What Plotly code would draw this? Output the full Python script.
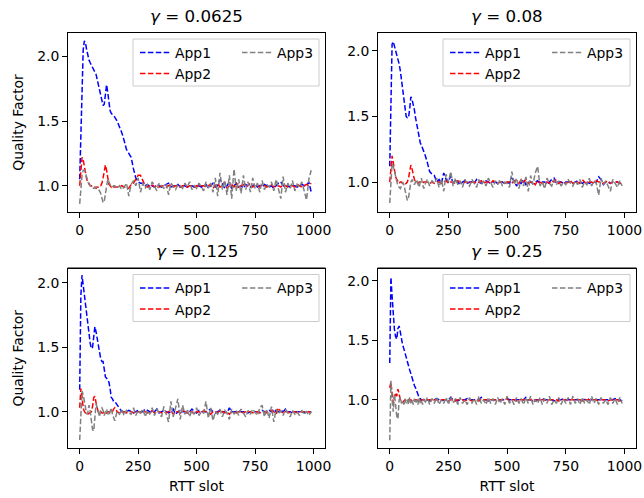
import plotly.graph_objects as go

# RTT slot sampling (finer at the start where the transients are)
rtt_slots = list(range(0, 151, 5)) + list(range(160, 1000, 10))

gammas = ["0.0625", "0.08", "0.125", "0.25"]
app_names = ["App1", "App2", "App3"]

# ---------------- gamma = 0.0625 ----------------
g1_app1 = [1.05, 1.40, 1.80, 2.05, 2.12, 2.10, 2.05, 2.00, 1.97, 1.95,
           1.93, 1.92, 1.90, 1.88, 1.86, 1.82, 1.78, 1.74, 1.70, 1.66,
           1.62, 1.63, 1.74, 1.78, 1.72, 1.63, 1.58, 1.56, 1.55, 1.54,
           1.53,
           1.50, 1.46, 1.41, 1.35, 1.28, 1.25, 1.22, 1.13, 1.06, 1.03,
           1.02, 1.02, 1.00, 1.01, 0.99, 1.00, 0.99, 1.01, 1.00, 0.99,
           1.00, 1.01, 1.02, 0.99, 1.00, 1.00, 1.01, 0.99, 1.00, 1.00,
           0.99, 1.00, 1.00, 0.99, 1.00, 1.00, 0.99, 1.00, 1.01, 0.98,
           1.00, 1.02, 0.99, 1.00, 1.05, 1.02, 0.98, 1.00, 1.03, 0.98,
           1.00, 1.02, 0.99, 1.00, 0.98, 1.01, 1.00, 0.99, 1.00, 1.01,
           0.99, 1.00, 0.99, 1.01, 1.00, 0.99, 1.00, 0.98, 1.00, 1.02,
           1.03, 1.00, 0.99, 1.00, 0.99, 1.00, 1.00, 0.99, 1.00, 1.01,
           1.00, 1.00, 1.03, 0.95]
g1_app2 = [1.00, 1.15, 1.22, 1.20, 1.14, 1.08, 1.05, 1.03, 1.01, 1.00,
           1.00, 0.99, 0.99, 0.99, 0.98, 0.99, 0.99, 1.00, 1.00, 1.02,
           1.06, 1.12, 1.16, 1.12, 1.05, 1.01, 1.00, 0.99, 1.00, 0.99,
           0.99,
           0.99, 0.99, 1.00, 0.99, 0.98, 0.98, 1.01, 1.02, 1.05, 1.08,
           1.08, 1.04, 1.00, 0.99, 1.00, 1.01, 0.99, 1.00, 0.99, 1.00,
           1.00, 0.99, 1.00, 1.01, 0.99, 1.00, 1.00, 0.99, 1.00, 1.00,
           0.99, 1.00, 1.00, 0.99, 1.00, 0.99, 1.00, 1.00, 0.99, 1.00,
           1.01, 0.98, 1.00, 1.02, 0.99, 1.00, 1.03, 0.98, 1.00, 1.01,
           0.99, 1.02, 0.98, 1.00, 1.01, 0.99, 1.00, 1.02, 0.99, 1.00,
           1.00, 0.99, 1.01, 1.00, 0.99, 1.00, 1.01, 0.99, 1.00, 1.00,
           0.99, 1.01, 1.00, 0.99, 1.00, 1.00, 0.99, 1.01, 1.00, 0.99,
           1.00, 1.01, 1.00, 1.02]
g1_app3 = [0.86, 0.98, 1.08, 1.12, 1.12, 1.10, 1.06, 1.03, 1.01, 1.00,
           1.00, 0.99, 0.98, 0.98, 0.99, 0.98, 0.97, 0.96, 0.94, 0.90,
           0.87, 0.88, 0.95, 1.02, 1.05, 1.03, 1.00, 0.99, 0.99, 1.00,
           1.00,
           0.98, 1.00, 0.97, 0.99, 1.02, 0.92, 1.01, 1.04, 1.00, 1.06,
           0.95, 1.02, 0.98, 1.01, 0.97, 1.03, 0.99, 0.96, 1.02, 1.00,
           0.98, 1.01, 0.93, 1.02, 0.99, 0.97, 1.01, 1.00, 0.98, 1.02,
           0.99, 1.03, 0.97, 1.00, 0.98, 1.02, 0.99, 0.96, 1.03, 0.98,
           1.02, 0.95, 1.06, 0.92, 1.10, 0.97, 1.04, 0.93, 1.08, 0.90,
           1.13, 0.96, 1.05, 0.94, 1.08, 0.97, 1.03, 0.95, 1.06, 0.98,
           1.02, 0.95, 1.04, 0.97, 1.01, 0.99, 1.03, 0.96, 1.05, 0.98,
           0.90, 1.07, 0.95, 1.02, 0.98, 1.04, 0.96, 1.01, 0.99, 1.03,
           0.97, 0.89, 1.05, 1.12]

# ---------------- gamma = 0.08 ----------------
g2_app1 = [1.12, 1.70, 2.05, 2.07, 2.04, 2.00, 1.97, 1.94, 1.90, 1.85,
           1.78, 1.71, 1.63, 1.56, 1.50, 1.49, 1.49, 1.56, 1.65, 1.63,
           1.60, 1.55, 1.49, 1.44, 1.38, 1.32, 1.30, 1.28, 1.26, 1.23,
           1.21,
           1.15, 1.08, 1.06, 1.05, 1.00, 1.02, 0.99, 1.07, 1.02, 1.00,
           1.05, 0.99, 1.01, 1.00, 0.98, 1.00, 1.01, 0.99, 1.00, 1.00,
           0.99, 1.02, 1.00, 0.99, 1.00, 1.01, 1.00, 0.99, 1.00, 1.00,
           0.99, 1.00, 1.00, 0.99, 1.00, 0.99, 1.03, 1.01, 0.97, 1.00,
           0.99, 1.02, 0.98, 1.00, 1.00, 0.99, 1.00, 1.01, 0.99, 1.00,
           1.00, 0.98, 1.00, 1.02, 1.03, 0.99, 1.00, 1.00, 0.99, 1.00,
           1.00, 1.00, 0.99, 1.00, 1.01, 1.00, 0.99, 1.00, 1.00, 0.99,
           1.00, 1.00, 1.00, 1.04, 1.02, 0.98, 1.00, 1.00, 0.99, 1.00,
           1.00, 1.00, 0.99, 1.00]
g2_app2 = [1.00, 1.12, 1.20, 1.15, 1.08, 1.04, 1.02, 1.00, 0.99, 1.00,
           1.00, 0.99, 0.99, 0.98, 0.99, 1.00, 1.03, 1.08, 1.13, 1.10,
           1.05, 1.02, 1.00, 1.00, 0.99, 1.00, 1.00, 1.00, 0.99, 1.00,
           1.00,
           1.00, 0.99, 1.00, 0.99, 1.00, 1.00, 0.99, 1.00, 1.01, 0.99,
           1.00, 1.00, 0.99, 1.01, 1.00, 0.99, 1.00, 1.00, 0.99, 1.00,
           1.00, 0.99, 1.00, 1.01, 0.99, 1.00, 1.00, 0.99, 1.01, 1.00,
           0.99, 1.00, 1.00, 0.99, 1.00, 1.00, 0.99, 1.01, 1.00, 0.99,
           1.02, 1.00, 1.02, 0.99, 1.00, 1.00, 0.98, 1.01, 1.00, 0.99,
           1.00, 1.00, 0.99, 1.01, 1.00, 1.02, 0.99, 1.00, 1.00, 0.99,
           1.00, 1.01, 0.99, 1.00, 1.00, 0.99, 1.02, 1.00, 0.99, 1.00,
           1.00, 0.99, 1.01, 1.00, 1.00, 0.99, 1.00, 1.01, 0.99, 1.00,
           1.00, 1.00, 0.99, 1.00]
g2_app3 = [0.84, 1.05, 1.14, 1.12, 1.08, 1.04, 1.00, 0.97, 0.96, 0.95,
           0.97, 1.00, 0.98, 0.94, 0.90, 0.86, 0.88, 0.94, 1.00, 1.02,
           1.00, 0.98, 1.00, 1.02, 0.99, 0.96, 1.00, 1.03, 0.98, 0.95,
           0.98,
           1.02, 0.97, 1.01, 0.99, 1.03, 0.96, 1.02, 0.93, 1.06, 1.00,
           1.08, 0.97, 1.03, 0.98, 1.01, 0.96, 1.02, 0.99, 0.97, 1.02,
           0.99, 0.96, 1.02, 0.98, 1.01, 0.97, 1.03, 0.99, 0.96, 1.01,
           0.98, 1.02, 0.97, 1.00, 0.99, 0.96, 1.08, 0.98, 1.03, 0.95,
           1.02, 0.97, 1.04, 0.93, 1.05, 0.98, 1.07, 1.12, 0.97, 1.00,
           0.95, 1.03, 0.99, 0.97, 1.02, 0.98, 1.01, 0.97, 1.00, 0.98,
           1.02, 0.99, 0.97, 1.01, 0.98, 1.02, 0.96, 1.00, 0.98, 1.03,
           0.97, 1.01, 0.99, 0.90, 1.03, 0.98, 1.01, 0.97, 0.93, 1.02,
           0.99, 0.96, 1.01, 0.97]

# ---------------- gamma = 0.125 ----------------
g3_app1 = [1.17, 1.90, 2.06, 1.98, 1.93, 1.84, 1.75, 1.66, 1.58, 1.53,
           1.49, 1.50, 1.58, 1.66, 1.62, 1.57, 1.50, 1.44, 1.41, 1.39,
           1.39, 1.33, 1.27, 1.26, 1.24, 1.23, 1.18, 1.11, 1.10, 1.08,
           1.08,
           1.05, 1.02, 1.00, 1.00, 1.00, 1.01, 1.00, 0.99, 1.00, 1.01,
           1.00, 1.00, 1.02, 1.01, 1.00, 1.00, 1.00, 1.02, 0.99, 1.00,
           1.01, 1.00, 0.99, 1.00, 1.02, 0.98, 1.00, 1.01, 1.00, 1.00,
           0.99, 1.00, 1.02, 1.00, 0.99, 1.01, 1.00, 1.00, 1.00, 1.01,
           1.02, 1.00, 0.99, 1.00, 1.01, 1.00, 1.00, 0.99, 1.03, 1.00,
           1.00, 1.00, 1.01, 1.00, 1.00, 1.00, 0.99, 1.00, 1.00, 1.00,
           1.00, 1.00, 1.01, 1.00, 1.00, 1.01, 1.00, 1.02, 1.00, 1.00,
           1.01, 1.00, 1.02, 1.00, 1.00, 0.99, 1.00, 1.00, 1.00, 1.00,
           0.99, 1.00, 1.00, 1.00]
g3_app2 = [1.03, 1.18, 1.12, 1.03, 1.00, 0.99, 0.99, 0.98, 0.99, 0.99,
           1.00, 1.04, 1.11, 1.12, 1.07, 1.02, 0.99, 0.99, 1.00, 0.99,
           0.99, 1.00, 0.99, 0.99, 1.00, 1.00, 0.99, 0.99, 1.00, 1.02,
           1.03,
           1.00, 0.99, 0.99, 1.00, 0.99, 1.00, 1.00, 0.99, 1.00, 1.00,
           0.99, 1.00, 1.00, 0.99, 1.00, 1.01, 0.99, 1.00, 1.00, 0.99,
           1.00, 0.99, 1.00, 1.01, 0.98, 1.00, 1.00, 0.99, 1.01, 1.00,
           0.99, 1.00, 1.00, 0.98, 1.00, 1.00, 0.99, 1.01, 1.00, 0.99,
           0.98, 1.00, 1.00, 0.99, 1.01, 1.00, 0.99, 1.00, 0.98, 1.00,
           1.00, 0.99, 1.00, 1.00, 0.99, 1.00, 1.00, 1.00, 0.99, 1.00,
           1.00, 0.99, 1.00, 1.00, 0.99, 1.00, 1.01, 1.00, 0.98, 1.03,
           1.00, 0.99, 1.00, 1.00, 0.99, 1.00, 1.00, 0.99, 1.00, 1.00,
           1.00, 0.99, 1.00, 0.99]
g3_app3 = [0.78, 1.05, 1.16, 1.13, 1.08, 1.02, 0.98, 1.00, 1.05, 1.00,
           0.92, 0.86, 0.85, 0.95, 1.06, 1.03, 0.98, 0.96, 1.02, 1.03,
           1.01, 0.97, 1.00, 1.02, 0.99, 0.97, 1.00, 1.03, 0.98, 0.95,
           0.93,
           1.00, 0.98, 1.02, 0.97, 1.01, 0.99, 0.98, 1.03, 0.97, 1.01,
           0.99, 1.02, 0.96, 1.01, 0.98, 1.03, 0.97, 1.02, 0.99, 0.96,
           1.04, 0.97, 0.92, 1.08, 0.96, 1.03, 1.10, 0.94, 1.05, 0.98,
           1.02, 0.96, 1.01, 0.98, 1.03, 0.97, 1.00, 0.99, 1.08, 0.95,
           1.03, 0.93, 1.00, 0.98, 1.02, 0.96, 1.01, 0.99, 0.94, 1.02,
           0.98, 1.01, 0.97, 1.02, 0.99, 0.96, 1.01, 0.98, 1.02, 0.99,
           0.97, 1.03, 1.05, 0.96, 1.02, 0.95, 1.04, 0.92, 1.02, 0.98,
           1.01, 0.97, 1.02, 0.99, 0.96, 1.01, 0.98, 1.00, 0.97, 1.01,
           0.98, 1.00, 0.97, 1.00]

# ---------------- gamma = 0.25 ----------------
g4_app1 = [1.31, 2.03, 1.87, 1.70, 1.59, 1.53, 1.51, 1.60, 1.62, 1.57,
           1.50, 1.46, 1.43, 1.39, 1.36, 1.32, 1.28, 1.25, 1.22, 1.18,
           1.15, 1.12, 1.10, 1.07, 1.04, 1.02, 1.01, 1.00, 1.00, 1.00,
           1.00,
           1.00, 0.99, 1.00, 1.00, 1.01, 1.00, 0.99, 1.00, 1.00, 1.00,
           1.02, 1.00, 1.00, 0.99, 1.00, 1.00, 1.00, 1.01, 1.00, 1.00,
           1.00, 1.00, 1.00, 1.02, 1.00, 1.00, 0.99, 1.00, 1.00, 1.00,
           1.00, 1.00, 1.00, 1.00, 1.01, 1.00, 1.00, 1.00, 1.00, 1.00,
           1.00, 1.00, 1.02, 1.00, 1.00, 0.99, 1.00, 1.00, 1.00, 1.01,
           1.00, 1.00, 1.00, 1.00, 0.99, 1.00, 1.00, 1.00, 1.01, 1.00,
           1.00, 1.00, 1.00, 1.00, 1.00, 0.99, 1.00, 1.00, 1.01, 1.00,
           1.00, 1.01, 1.00, 1.00, 1.00, 1.00, 1.00, 1.00, 1.00, 1.00,
           1.01, 1.00, 1.00, 0.99]
g4_app2 = [1.10, 1.15, 1.05, 0.97, 1.02, 1.06, 1.03, 1.09, 1.05, 1.00,
           0.99, 0.98, 0.99, 1.00, 0.99, 0.99, 1.00, 0.99, 1.00, 0.99,
           1.00, 0.99, 1.00, 1.00, 0.99, 1.00, 0.99, 1.00, 1.00, 1.00,
           0.99,
           1.00, 1.00, 0.99, 1.00, 1.00, 0.99, 1.00, 1.00, 1.00, 0.99,
           1.00, 1.01, 0.99, 1.00, 1.00, 1.00, 0.99, 1.00, 1.00, 0.99,
           1.00, 1.00, 0.99, 1.01, 1.00, 1.00, 0.99, 1.00, 1.00, 1.00,
           0.99, 1.00, 1.00, 1.00, 1.01, 0.99, 1.00, 1.00, 0.99, 1.00,
           1.00, 1.00, 0.99, 1.00, 1.00, 1.01, 0.99, 1.00, 1.00, 1.00,
           1.00, 0.99, 1.00, 1.00, 1.00, 1.00, 0.99, 1.01, 1.00, 1.00,
           0.99, 1.00, 1.00, 1.00, 1.00, 1.00, 0.99, 1.00, 1.00, 1.00,
           1.00, 1.00, 1.00, 0.99, 1.00, 1.00, 1.00, 0.99, 1.00, 1.00,
           1.00, 1.00, 0.99, 0.99]
g4_app3 = [0.66, 1.16, 1.00, 0.90, 1.05, 0.95, 0.86, 0.84, 1.00, 1.02,
           0.97, 0.99, 0.96, 1.01, 0.97, 1.00, 0.96, 1.02, 0.97, 1.00,
           0.96, 1.01, 0.97, 1.00, 0.96, 1.02, 0.97, 0.99, 0.96, 1.01,
           0.97,
           1.02, 0.96, 1.01, 0.97, 1.02, 0.96, 1.00, 0.97, 1.02, 0.96,
           1.03, 0.97, 1.01, 0.96, 1.02, 0.97, 1.00, 0.96, 1.02, 0.97,
           1.01, 0.96, 1.03, 0.97, 1.00, 0.96, 1.02, 0.97, 1.01, 0.96,
           1.02, 0.97, 1.01, 0.96, 1.03, 0.97, 1.00, 0.96, 1.02, 0.97,
           1.01, 0.96, 1.02, 0.97, 1.03, 0.96, 1.00, 0.97, 1.02, 0.96,
           1.01, 0.97, 1.03, 0.96, 1.00, 0.97, 1.02, 0.96, 1.01, 0.97,
           1.02, 0.96, 1.03, 0.97, 1.01, 0.96, 1.02, 0.97, 1.00, 0.96,
           1.03, 0.97, 1.01, 0.96, 1.02, 0.97, 1.00, 0.96, 1.02, 0.97,
           1.01, 0.96, 1.02, 0.97]

panel_series = [
    [g1_app1, g1_app2, g1_app3],
    [g2_app1, g2_app2, g2_app3],
    [g3_app1, g3_app2, g3_app3],
    [g4_app1, g4_app2, g4_app3],
]
y_ranges = [[0.797, 2.180], [0.772, 2.136], [0.718, 2.112], [0.595, 2.103]]

# ---------------- layout geometry (pixels) ----------------
W, H = 644, 498
ML, MR, MT, MB = 68, 8, 33, 50
PW, PH = W - ML - MR, H - MT - MB
panels_px = [(68, 325, 33, 212), (378, 636, 33, 212),
             (68, 325, 268.5, 448), (378, 636, 268.5, 448)]

def px_x(px):
    return (px - ML) / PW

def px_y(py):
    return (H - MB - py) / PH

FONT = "DejaVu Sans"
colors = ["#0000ff", "#ff0000", "#808080"]
fig = go.Figure()
axes_layout, legends_layout, shapes, annotations = {}, {}, [], []

for i in range(4):
    L, R, T, B = panels_px[i]
    xa = "xaxis" if i == 0 else f"xaxis{i+1}"
    ya = "yaxis" if i == 0 else f"yaxis{i+1}"
    xr = "x" if i == 0 else f"x{i+1}"
    yr = "y" if i == 0 else f"y{i+1}"
    lg1 = "legend" if i == 0 else f"legend{2*i+1}"
    lg2 = f"legend{2*i+2}"

    for k in range(3):
        fig.add_trace(go.Scatter(
            x=rtt_slots, y=panel_series[i][k], mode="lines", name=app_names[k],
            xaxis=xr, yaxis=yr, legend=lg1 if k < 2 else lg2,
            line=dict(color=colors[k], width=1.5, dash="5.5px,2.4px")))

    axes_layout[xa] = dict(
        domain=[px_x(L), px_x(R)], anchor=yr, range=[-50, 1049],
        tickmode="array", tickvals=[0, 250, 500, 750, 1000],
        showline=True, linecolor="black", linewidth=1, mirror=True,
        ticks="outside", ticklen=5, tickwidth=1, tickcolor="black",
        showgrid=False, zeroline=False,
        tickfont=dict(family=FONT, size=13.9, color="black"))
    if i >= 2:
        axes_layout[xa]["title"] = dict(text="RTT slot", standoff=8,
                                        font=dict(family=FONT, size=13.9, color="black"))
    axes_layout[ya] = dict(
        domain=[px_y(B), px_y(T)], anchor=xr, range=y_ranges[i],
        tickmode="array", tickvals=[1.0, 1.5, 2.0], tickformat=".1f",
        showline=True, linecolor="black", linewidth=1, mirror=True,
        ticks="outside", ticklen=5, tickwidth=1, tickcolor="black",
        showgrid=False, zeroline=False,
        tickfont=dict(family=FONT, size=13.9, color="black"))
    if i in (0, 2):
        axes_layout[ya]["title"] = dict(text="Quality Factor", standoff=10,
                                        font=dict(family=FONT, size=13.9, color="black"))

    for lg, off in ((lg1, 67), (lg2, 169)):
        legends_layout[lg] = dict(
            x=px_x(L + off), y=px_y(T + 4), xanchor="left", yanchor="top",
            bgcolor="rgba(0,0,0,0)", borderwidth=0, orientation="v",
            font=dict(family=FONT, size=13.9, color="black"))

    # axes frame (same place as the axis lines)
    shapes.append(dict(type="rect", xref="paper", yref="paper",
                       x0=px_x(L - 0.5), x1=px_x(R + 0.5),
                       y0=px_y(B + 0.5), y1=px_y(T - 0.5),
                       line=dict(color="black", width=1),
                       fillcolor="rgba(0,0,0,0)", layer="above"))
    # legend frame
    shapes.append(dict(type="rect", xref="paper", yref="paper",
                       x0=px_x(L + 65), x1=px_x(R - 6), y0=px_y(T + 53), y1=px_y(T + 6),
                       line=dict(color="#cccccc", width=1),
                       fillcolor="rgba(255,255,255,0.8)", layer="above"))
    annotations.append(dict(text=f"<i>γ</i> = {gammas[i]}", xref="paper", yref="paper",
                            x=px_x((L + R) / 2), y=px_y(T - 17),
                            xanchor="center", yanchor="middle", showarrow=False,
                            font=dict(family=FONT, size=16.7, color="black")))

fig.update_layout(template="none", width=W, height=H,
                  margin=dict(l=ML, r=MR, t=MT, b=MB),
                  font=dict(family=FONT, size=13.9, color="black"),
                  shapes=shapes, annotations=annotations,
                  plot_bgcolor="white", paper_bgcolor="white",
                  **axes_layout, **legends_layout)

js = r"""
document.body.style.margin='0';
(function(){
  var gd = document.querySelector('.js-plotly-plot');
  function touch(){
    try {
      gd.querySelectorAll('path.crisp, path.ticks').forEach(function(e){ getComputedStyle(e).strokeWidth; });
      document.elementFromPoint(68, 120);
    } catch(e) {}
    var d = document.createElement('div');
    d.style.cssText = 'position:absolute;left:0;top:0;width:1px;height:1px;';
    document.body.appendChild(d);
  }
  touch(); setTimeout(touch, 100); setTimeout(touch, 300);
})();
"""
fig.write_html("out.html", config={"displayModeBar": False}, post_script=js)
